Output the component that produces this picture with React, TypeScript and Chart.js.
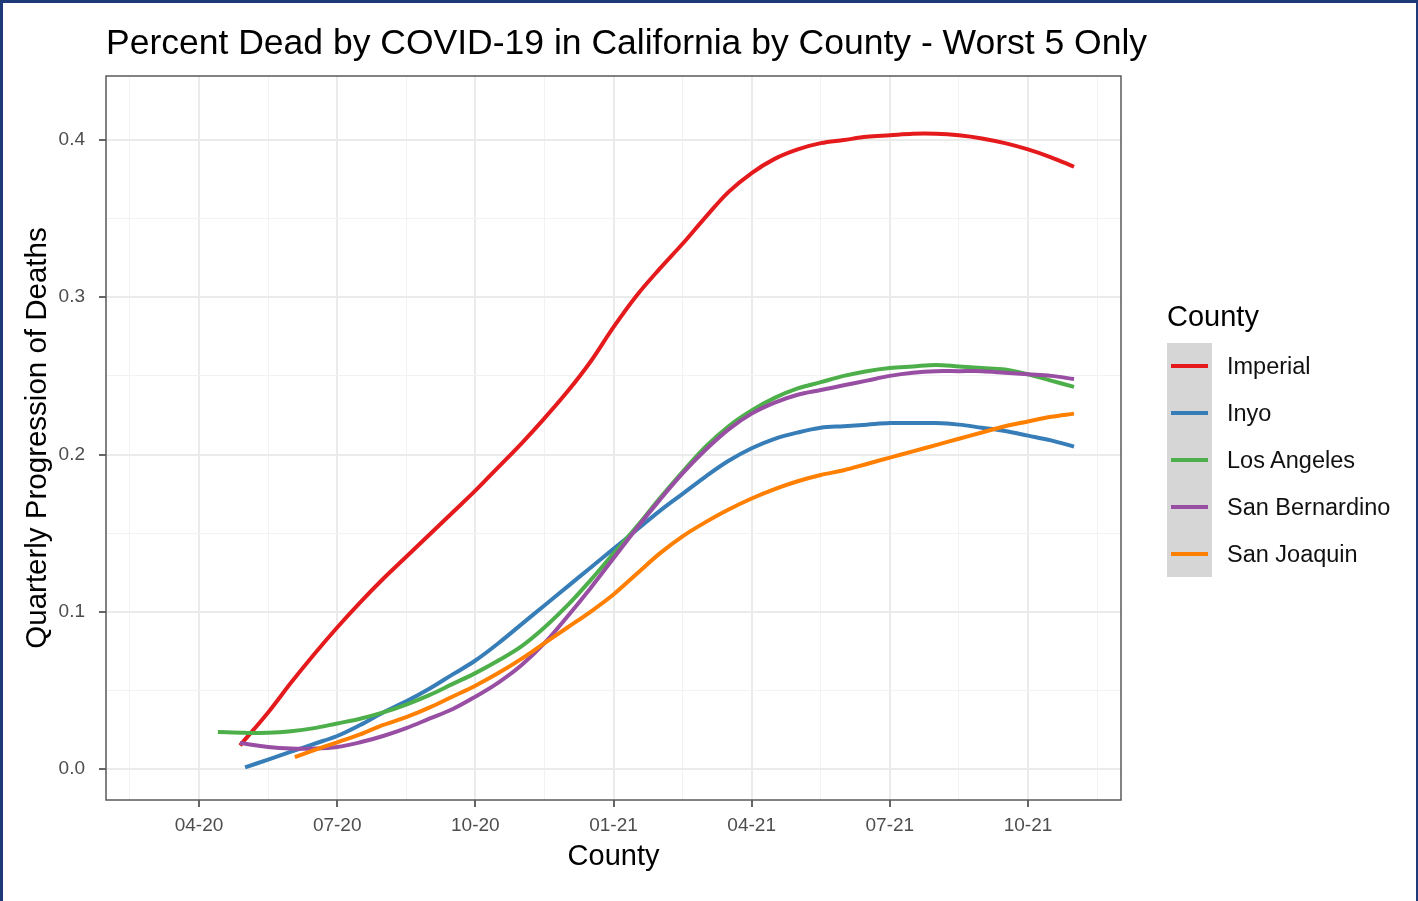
import React, { useEffect, useRef } from 'react';
import { Chart, registerables } from 'chart.js';

Chart.register(...registerables);

const TITLE = 'Percent Dead by COVID-19 in California by County - Worst 5 Only';
const X_TITLE = 'County';
const Y_TITLE = 'Quarterly Progression of Deaths';
const LEGEND_TITLE = 'County';

const COUNTIES = ['Imperial', 'Inyo', 'Los Angeles', 'San Bernardino', 'San Joaquin'];
const COLORS = ['#E41A1C', '#377EB8', '#4DAF4A', '#984EA3', '#FF7F00'];

// months since April 2020
const MONTHS = [
  1, 1.5, 2, 2.5, 3, 3.5, 4, 4.5, 5, 5.5, 6, 6.5, 7, 7.5, 8, 8.5, 9, 9.5, 10, 10.5,
  11, 11.5, 12, 12.5, 13, 13.5, 14, 14.5, 15, 15.5, 16, 16.5, 17, 17.5, 18, 18.5, 19,
];
const START_MONTH = [0.89, null, 0.41, 0.89, 2.08];
const START_VALUE = [0.015, null, 0.0235, 0.0165, 0.0076];

const IMPERIAL = [
  null, 0.036, 0.055, 0.073, 0.090, 0.106, 0.121, 0.135, 0.149, 0.163, 0.177, 0.192, 0.207,
  0.223, 0.240, 0.259, 0.281, 0.301, 0.318, 0.334, 0.351, 0.367, 0.379, 0.388, 0.394, 0.398,
  0.400, 0.402, 0.403, 0.404, 0.404, 0.403, 0.401, 0.398, 0.394, 0.389, 0.383,
];
const INYO = [
  0.001, 0.006, 0.011, 0.016, 0.021, 0.028, 0.036, 0.043, 0.051, 0.060, 0.069, 0.080, 0.092,
  0.104, 0.116, 0.128, 0.140, 0.152, 0.164, 0.175, 0.186, 0.196, 0.204, 0.210, 0.214, 0.217,
  0.218, 0.219, 0.220, 0.220, 0.220, 0.219, 0.217, 0.215, 0.212, 0.209, 0.205,
];
const LOS_ANGELES = [
  0.023, 0.023, 0.024, 0.026, 0.029, 0.032, 0.036, 0.041, 0.047, 0.054, 0.061, 0.069, 0.078,
  0.090, 0.104, 0.120, 0.137, 0.154, 0.172, 0.189, 0.205, 0.218, 0.228, 0.236, 0.242, 0.246,
  0.250, 0.253, 0.255, 0.256, 0.257, 0.256, 0.255, 0.254, 0.251, 0.247, 0.243,
];
const SAN_BERNARDINO = [
  null, 0.014, 0.013, 0.013, 0.014, 0.017, 0.021, 0.026, 0.032, 0.038, 0.046, 0.055, 0.066,
  0.080, 0.097, 0.115, 0.134, 0.153, 0.171, 0.188, 0.203, 0.216, 0.226, 0.233, 0.238, 0.241,
  0.244, 0.247, 0.250, 0.252, 0.253, 0.253, 0.253, 0.252, 0.251, 0.250, 0.248,
];
const SAN_JOAQUIN = [
  null, null, null, 0.012, 0.017, 0.022, 0.028, 0.033, 0.039, 0.046, 0.053, 0.061, 0.070,
  0.080, 0.090, 0.100, 0.111, 0.124, 0.137, 0.148, 0.157, 0.165, 0.172, 0.178, 0.183, 0.187,
  0.190, 0.194, 0.198, 0.202, 0.206, 0.210, 0.214, 0.218, 0.221, 0.224, 0.226,
];
const SERIES = [IMPERIAL, INYO, LOS_ANGELES, SAN_BERNARDINO, SAN_JOAQUIN];

const X_TICK_MONTHS = [0, 3, 6, 9, 12, 15, 18];
const X_TICK_LABELS = ['04-20', '07-20', '10-20', '01-21', '04-21', '07-21', '10-21'];
const X_MINOR = [-1.5, 1.5, 4.5, 7.5, 10.5, 13.5, 16.5, 19.5];
const Y_TICKS = [0, 0.1, 0.2, 0.3, 0.4];
const Y_MINOR = [0.05, 0.15, 0.25, 0.35];

const FONT = '"Liberation Sans", Arial, Helvetica, sans-serif';

const panelBorder = {
  id: 'panelBorder',
  afterDatasetsDraw(chart: any) {
    const { ctx, chartArea } = chart;
    ctx.save();
    ctx.strokeStyle = '#5a5a5a';
    ctx.lineWidth = 1.5;
    ctx.strokeRect(chartArea.left, chartArea.top, chartArea.right - chartArea.left, chartArea.bottom - chartArea.top);
    ctx.restore();
  },
};

const isMajorX = (v: number) => X_TICK_MONTHS.includes(v);
const isMajorY = (v: number) => Y_TICKS.some((t) => Math.abs(t - v) < 1e-9);

export default function App() {
  const ref = useRef<HTMLCanvasElement | null>(null);

  useEffect(() => {
    document.body.style.margin = '0';
    const canvas = ref.current;
    if (!canvas) return;
    const datasets = SERIES.map((vals, i) => {
      const pts: { x: number; y: number }[] = [];
      const sm = START_MONTH[i];
      const sv = START_VALUE[i];
      if (sm !== null && sv !== null) pts.push({ x: sm, y: sv });
      MONTHS.forEach((m, j) => {
        const v = vals[j];
        if (v !== null && v !== undefined) pts.push({ x: m, y: v });
      });
      return {
        label: COUNTIES[i],
        data: pts,
        borderColor: COLORS[i],
        backgroundColor: COLORS[i],
        borderWidth: 4,
        pointRadius: 0,
        tension: 0.35,
        fill: false,
        order: COUNTIES.length - i,
      };
    });

    const chart = new Chart(canvas, {
      type: 'line',
      data: { datasets },
      plugins: [panelBorder],
      options: {
        animation: false,
        responsive: false,
        maintainAspectRatio: false,
        devicePixelRatio: 1,
        layout: { padding: { top: 76, right: 297, bottom: 0, left: 0 } },
        plugins: {
          legend: { display: false },
          title: { display: false },
          tooltip: { enabled: false },
        },
        scales: {
          x: {
            type: 'linear',
            min: -2.02,
            max: 20.02,
            afterBuildTicks: (scale: any) => {
              scale.ticks = [...X_TICK_MONTHS, ...X_MINOR].sort((a, b) => a - b).map((v) => ({ value: v }));
            },
            afterFit: (scale: any) => {
              scale.height = 101;
            },
            ticks: {
              autoSkip: false,
              maxRotation: 0,
              padding: 7,
              color: '#4D4D4D',
              font: { family: FONT, size: 19 },
              callback: (v: any) => {
                const idx = X_TICK_MONTHS.indexOf(Number(v));
                return idx >= 0 ? X_TICK_LABELS[idx] : '';
              },
            },
            grid: {
              color: (c: any) => (c.tick && isMajorX(c.tick.value) ? '#EBEBEB' : '#F2F2F2'),
              lineWidth: (c: any) => (c.tick && isMajorX(c.tick.value) ? 2 : 1),
              tickColor: (c: any) => (c.tick && isMajorX(c.tick.value) ? '#333333' : 'rgba(0,0,0,0)'),
              tickLength: 7,
              tickWidth: 1.5,
              drawTicks: true,
            },
            border: { display: false },
            title: {
              display: true,
              text: X_TITLE,
              color: '#000',
              font: { family: FONT, size: 29 },
              padding: { top: 0, bottom: 27 },
            },
          },
          y: {
            type: 'linear',
            min: -0.0197,
            max: 0.4407,
            afterBuildTicks: (scale: any) => {
              scale.ticks = [...Y_TICKS, ...Y_MINOR].sort((a, b) => a - b).map((v) => ({ value: v }));
            },
            afterFit: (scale: any) => {
              scale.width = 106;
            },
            ticks: {
              autoSkip: false,
              padding: 14,
              color: '#4D4D4D',
              font: { family: FONT, size: 19 },
              callback: (v: any) => (isMajorY(Number(v)) ? Number(v).toFixed(1) : ''),
            },
            grid: {
              color: (c: any) => (c.tick && isMajorY(c.tick.value) ? '#EBEBEB' : '#F2F2F2'),
              lineWidth: (c: any) => (c.tick && isMajorY(c.tick.value) ? 2 : 1),
              tickColor: (c: any) => (c.tick && isMajorY(c.tick.value) ? '#333333' : 'rgba(0,0,0,0)'),
              tickLength: 7,
              tickWidth: 1.5,
              drawTicks: true,
            },
            border: { display: false },
            title: {
              display: true,
              text: Y_TITLE,
              color: '#000',
              font: { family: FONT, size: 29.5 },
              padding: { top: 20, bottom: 0 },
            },
          },
        },
      } as any,
    });
    return () => chart.destroy();
  }, []);

  const keyTop = 343;
  const keyStep = 46.8;

  return (
    <div
      style={{
        position: 'relative',
        width: 1418,
        height: 901,
        background: '#fff',
        overflow: 'hidden',
        fontFamily: FONT,
      }}
    >
      <canvas ref={ref} width={1418} height={901} style={{ position: 'absolute', left: 0, top: 0, width: 1418, height: 901 }} />
      <div
        style={{
          position: 'absolute',
          left: 106,
          top: 21,
          fontSize: 35.5,
          lineHeight: '42px',
          color: '#000',
          whiteSpace: 'nowrap',
        }}
      >
        {TITLE}
      </div>
      <div
        style={{
          position: 'absolute',
          left: 1167,
          top: 299,
          fontSize: 29,
          lineHeight: '34px',
          color: '#000',
          whiteSpace: 'nowrap',
        }}
      >
        {LEGEND_TITLE}
      </div>
      <div
        style={{
          position: 'absolute',
          left: 1167,
          top: keyTop,
          width: 45,
          height: keyStep * COUNTIES.length,
          background: '#D6D6D6',
        }}
      />
      {COUNTIES.map((name, i) => {
        const cy = keyTop + keyStep * (i + 0.5);
        return (
          <React.Fragment key={name}>
            <div
              style={{
                position: 'absolute',
                left: 1171,
                top: cy - 2,
                width: 37,
                height: 4,
                background: COLORS[i],
              }}
            />
            <div
              style={{
                position: 'absolute',
                left: 1227,
                top: cy - 14,
                fontSize: 23.5,
                lineHeight: '28px',
                color: '#111',
                whiteSpace: 'nowrap',
              }}
            >
              {name}
            </div>
          </React.Fragment>
        );
      })}
      <div
        style={{
          position: 'absolute',
          left: 0,
          top: 0,
          right: 0,
          bottom: 0,
          borderTop: '3px solid #1e3a78',
          borderLeft: '3px solid #1e3a78',
          borderRight: '2px solid #1e3a78',
          pointerEvents: 'none',
        }}
      />
    </div>
  );
}
